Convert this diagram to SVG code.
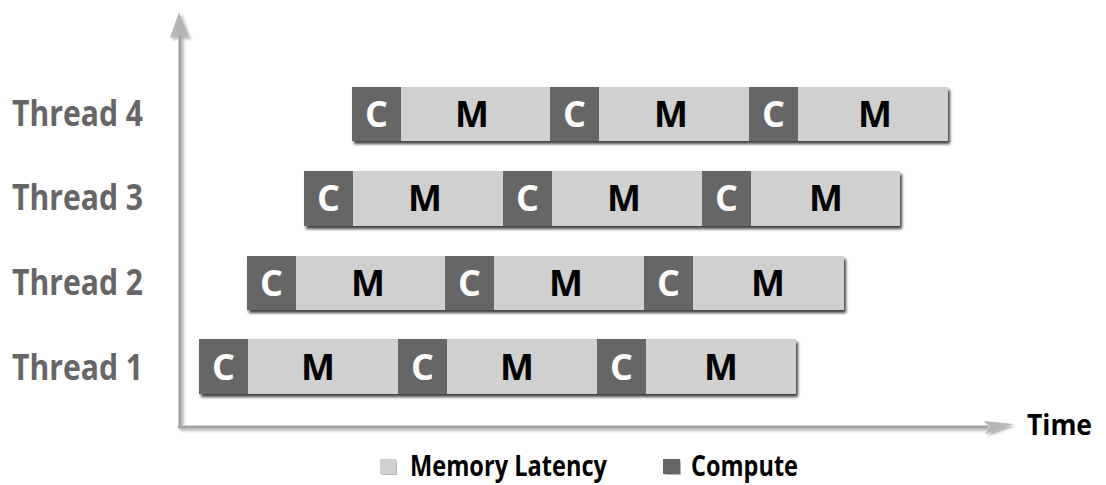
<svg xmlns="http://www.w3.org/2000/svg" width="1106" height="485" viewBox="0 0 1106 485">
  <defs>
    <filter id="sh" x="-5%" y="-20%" width="110%" height="150%">
      <feDropShadow dx="2" dy="3" stdDeviation="1.6" flood-color="#000" flood-opacity="0.75"/>
    </filter>
    <filter id="ash" x="-5%" y="-5%" width="110%" height="110%">
      <feDropShadow dx="2" dy="2" stdDeviation="1.5" flood-color="#000" flood-opacity="0.35"/>
    </filter>
  </defs>
  <style>
    .m { fill: #d0d0d0; }
    .c { fill: #666666; }
    .ct { font-family: "Open Sans", "Liberation Sans", sans-serif; font-weight: bold; font-size: 36px; fill: #ffffff; text-anchor: middle; }
    .mt { font-family: "Open Sans", "Liberation Sans", sans-serif; font-weight: bold; font-size: 36px; fill: #000000; text-anchor: middle; }
    .lbl { font-family: "Open Sans", "Liberation Sans", sans-serif; font-weight: bold; font-size: 35px; fill: #666666; }
    .leg { font-family: "Open Sans", "Liberation Sans", sans-serif; font-weight: bold; font-size: 28px; fill: #000000; }
    .axis { stroke: #a3a3a3; stroke-width: 3; fill: none; }
  </style>

  <g id="axes" filter="url(#ash)">
    <line class="axis" x1="180" y1="34" x2="180" y2="427"/>
    <line class="axis" x1="178" y1="427" x2="988" y2="427"/>
    <polygon points="179,12 189,38 180,35 170,38" fill="#b5b5b5"/>
    <polygon points="1013,424 985,434 990,427 984,421" fill="#b5b5b5"/>
  </g>

  <g id="thread4">
    <g filter="url(#sh)">
      <rect class="m" x="352" y="87" width="596" height="54"/>
      <rect class="c" x="352" y="87" width="49" height="54"/>
      <rect class="c" x="550" y="87" width="49" height="54"/>
      <rect class="c" x="749" y="87" width="49" height="54"/>
    </g>
    <text class="ct" x="376.5" y="127">C</text>
    <text class="mt" x="472" y="127">M</text>
    <text class="ct" x="574.5" y="127">C</text>
    <text class="mt" x="671" y="127">M</text>
    <text class="ct" x="773.5" y="127">C</text>
    <text class="mt" x="875" y="127">M</text>
  </g>

  <g id="thread3">
    <g filter="url(#sh)">
      <rect class="m" x="304" y="171" width="596" height="55"/>
      <rect class="c" x="304" y="171" width="49" height="55"/>
      <rect class="c" x="503" y="171" width="49" height="55"/>
      <rect class="c" x="702" y="171" width="49" height="55"/>
    </g>
    <text class="ct" x="328.5" y="211">C</text>
    <text class="mt" x="425" y="211">M</text>
    <text class="ct" x="527.5" y="211">C</text>
    <text class="mt" x="624" y="211">M</text>
    <text class="ct" x="726.5" y="211">C</text>
    <text class="mt" x="826" y="211">M</text>
  </g>

  <g id="thread2">
    <g filter="url(#sh)">
      <rect class="m" x="247" y="256" width="597" height="54"/>
      <rect class="c" x="247" y="256" width="49" height="54"/>
      <rect class="c" x="445" y="256" width="49" height="54"/>
      <rect class="c" x="644" y="256" width="49" height="54"/>
    </g>
    <text class="ct" x="271.5" y="296">C</text>
    <text class="mt" x="368" y="296">M</text>
    <text class="ct" x="469.5" y="296">C</text>
    <text class="mt" x="566" y="296">M</text>
    <text class="ct" x="668.5" y="296">C</text>
    <text class="mt" x="768" y="296">M</text>
  </g>

  <g id="thread1">
    <g filter="url(#sh)">
      <rect class="m" x="199" y="339" width="597" height="55"/>
      <rect class="c" x="199" y="339" width="49" height="55"/>
      <rect class="c" x="398" y="339" width="49" height="55"/>
      <rect class="c" x="597" y="339" width="49" height="55"/>
    </g>
    <text class="ct" x="223.5" y="380">C</text>
    <text class="mt" x="318" y="380">M</text>
    <text class="ct" x="422.5" y="380">C</text>
    <text class="mt" x="517" y="380">M</text>
    <text class="ct" x="621.5" y="380">C</text>
    <text class="mt" x="721" y="380">M</text>
  </g>

  <g id="labels">
    <text class="lbl" x="12" y="126" textLength="131" lengthAdjust="spacingAndGlyphs">Thread 4</text>
    <text class="lbl" x="12" y="210" textLength="131" lengthAdjust="spacingAndGlyphs">Thread 3</text>
    <text class="lbl" x="12" y="295" textLength="131" lengthAdjust="spacingAndGlyphs">Thread 2</text>
    <text class="lbl" x="12" y="380" textLength="131" lengthAdjust="spacingAndGlyphs">Thread 1</text>
    <text class="leg" x="1027" y="435" font-size="32" textLength="65" lengthAdjust="spacingAndGlyphs">Time</text>
  </g>

  <g id="legend">
    <rect class="m" x="380" y="459" width="16" height="15" filter="url(#ash)"/>
    <text class="leg" x="410" y="476" textLength="197" lengthAdjust="spacingAndGlyphs">Memory Latency</text>
    <rect class="c" x="663" y="459" width="17" height="15" filter="url(#ash)"/>
    <text class="leg" x="691" y="476" textLength="107" lengthAdjust="spacingAndGlyphs">Compute</text>
  </g>
</svg>
